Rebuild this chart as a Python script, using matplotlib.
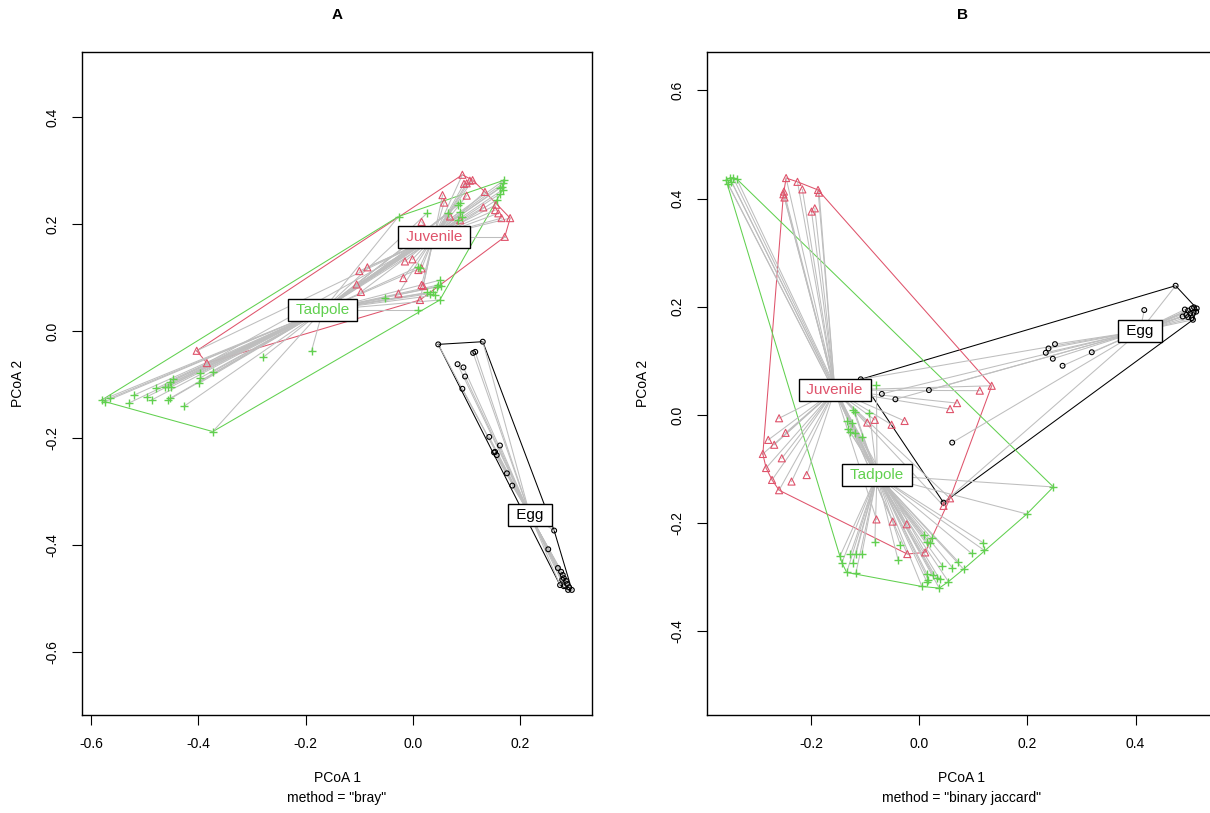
import matplotlib

matplotlib.use("Agg")
import matplotlib.pyplot as plt
import numpy as np

plt.rcParams["font.family"] = ["Liberation Sans", "DejaVu Sans"]
plt.rcParams["axes.unicode_minus"] = False

# =============================================================================
# DATA  (PCoA scores)
# =============================================================================
groups = ["Egg", "Juvenile", "Tadpole"]
group_colors = {"Egg": "#000000", "Juvenile": "#DF536B", "Tadpole": "#61D04F"}
group_markers = {"Egg": "o", "Juvenile": "^", "Tadpole": "+"}

# --- panel A: method = "bray"
a_egg_x = [0.047, 0.130, 0.112, 0.116, 0.083, 0.094, 0.097, 0.092, 0.142, 0.162,
           0.153, 0.156, 0.151, 0.175, 0.185, 0.263, 0.252, 0.270, 0.276, 0.279,
           0.281, 0.285, 0.287, 0.291, 0.281, 0.296, 0.289, 0.278, 0.274]
a_egg_y = [-0.025, -0.020, -0.041, -0.039, -0.062, -0.068, -0.085, -0.108, -0.198, -0.214,
           -0.226, -0.232, -0.227, -0.266, -0.289, -0.373, -0.408, -0.443, -0.450, -0.456,
           -0.462, -0.467, -0.473, -0.479, -0.477, -0.484, -0.484, -0.465, -0.475]
a_juv_x = [0.092, 0.100, 0.106, 0.111, 0.095, 0.055, 0.058, 0.100, 0.134, 0.155,
           0.131, 0.159, 0.165, 0.181, 0.171, 0.153, 0.069, 0.088, 0.016, -0.015,
           -0.001, 0.016, 0.010, -0.018, 0.019, 0.016, -0.027, 0.013, -0.100, -0.085,
           -0.105, -0.097, -0.403, -0.384]
a_juv_y = [0.292, 0.276, 0.281, 0.282, 0.275, 0.254, 0.240, 0.253, 0.260, 0.236,
           0.231, 0.220, 0.211, 0.211, 0.176, 0.226, 0.214, 0.207, 0.204, 0.130,
           0.134, 0.117, 0.114, 0.099, 0.084, 0.086, 0.070, 0.058, 0.112, 0.119,
           0.087, 0.073, -0.037, -0.060]
a_tad_x = [0.170, 0.165, 0.167, 0.163, 0.162, 0.168, 0.156, 0.088, 0.084, 0.066,
           0.088, 0.091, 0.084, 0.026, -0.027, 0.010, 0.013, 0.050, 0.047, 0.044,
           0.053, 0.038, 0.032, 0.041, 0.050, 0.026, -0.053, 0.009, -0.189, -0.279,
           -0.372, -0.397, -0.397, -0.399, -0.447, -0.453, -0.450, -0.456, -0.462, -0.478,
           -0.496, -0.487, -0.520, -0.530, -0.565, -0.574, -0.580, -0.456, -0.453, -0.427,
           -0.373]
a_tad_y = [0.282, 0.270, 0.264, 0.257, 0.267, 0.276, 0.245, 0.239, 0.236, 0.220,
           0.223, 0.214, 0.207, 0.220, 0.214, 0.120, 0.117, 0.095, 0.086, 0.083,
           0.084, 0.073, 0.070, 0.067, 0.058, 0.072, 0.061, 0.039, -0.037, -0.049,
           -0.076, -0.079, -0.088, -0.098, -0.090, -0.095, -0.104, -0.104, -0.104, -0.107,
           -0.123, -0.129, -0.120, -0.135, -0.126, -0.132, -0.129, -0.129, -0.126, -0.141,
           -0.188]
a_cent_x = [0.218, 0.039, -0.168]
a_cent_y = [-0.344, 0.176, 0.039]

# --- panel B: method = "binary jaccard"
b_egg_x = [0.474, 0.416, 0.491, 0.497, 0.504, 0.508, 0.513, 0.494, 0.501, 0.507,
           0.512, 0.487, 0.504, 0.506, 0.497, 0.251, 0.239, 0.234, 0.319, 0.247,
           0.265, -0.108, -0.069, -0.044, 0.018, 0.061, 0.045]
b_egg_y = [0.239, 0.194, 0.195, 0.193, 0.197, 0.199, 0.197, 0.185, 0.188, 0.189,
           0.191, 0.182, 0.179, 0.176, 0.181, 0.131, 0.123, 0.115, 0.116, 0.104,
           0.091, 0.066, 0.039, 0.029, 0.046, -0.051, -0.162]
b_juv_x = [-0.246, -0.225, -0.216, -0.187, -0.185, -0.250, -0.249, -0.251, -0.199, -0.193,
           0.134, 0.112, 0.070, 0.057, -0.027, -0.051, -0.082, -0.096, -0.259, -0.247,
           -0.279, -0.268, -0.289, -0.254, -0.283, -0.272, -0.259, -0.208, -0.236, 0.057,
           0.045, -0.079, -0.049, -0.023, -0.022, 0.011]
b_juv_y = [0.438, 0.431, 0.417, 0.416, 0.411, 0.413, 0.402, 0.408, 0.376, 0.382,
           0.054, 0.045, 0.022, 0.011, -0.011, -0.018, -0.009, -0.014, -0.006, -0.033,
           -0.046, -0.055, -0.072, -0.080, -0.098, -0.120, -0.139, -0.111, -0.123, -0.154,
           -0.168, -0.193, -0.197, -0.202, -0.257, -0.254]
b_tad_x = [-0.357, -0.350, -0.344, -0.337, -0.353, -0.347, -0.079, -0.119, -0.122, -0.092,
           -0.134, -0.125, -0.131, -0.128, -0.119, -0.106, 0.248, 0.199, -0.082, -0.035,
           -0.039, 0.008, 0.023, 0.014, 0.020, 0.118, 0.120, 0.097, 0.072, 0.082,
           0.061, 0.043, -0.146, -0.127, -0.117, -0.106, -0.143, -0.123, -0.134, -0.117,
           0.014, 0.026, 0.032, 0.017, 0.014, 0.038, 0.054, 0.005, 0.037]
b_tad_y = [0.434, 0.438, 0.439, 0.436, 0.427, 0.431, 0.055, 0.006, 0.009, 0.004,
           -0.012, -0.015, -0.026, -0.031, -0.034, -0.040, -0.133, -0.183, -0.234, -0.240,
           -0.268, -0.222, -0.228, -0.234, -0.237, -0.236, -0.250, -0.256, -0.271, -0.285,
           -0.282, -0.279, -0.260, -0.257, -0.257, -0.257, -0.273, -0.274, -0.291, -0.292,
           -0.293, -0.296, -0.302, -0.305, -0.308, -0.304, -0.308, -0.317, -0.320]
b_cent_x = [0.408, -0.156, -0.078]
b_cent_y = [0.155, 0.046, -0.111]

a_xticks = [-0.6, -0.4, -0.2, 0.0, 0.2]
a_yticks = [-0.6, -0.4, -0.2, 0.0, 0.2, 0.4]
b_xticks = [-0.2, 0.0, 0.2, 0.4]
b_yticks = [-0.4, -0.2, 0.0, 0.2, 0.4, 0.6]

W, H = 1210, 813


def px(x, y):
    """Pixel position (top-left origin) -> figure fraction."""
    return x / W, 1 - y / H


def convex_hull(xs, ys):
    """Monotone chain hull, returns closed list of vertices."""
    pts = sorted(set(zip(xs, ys)))

    def cross(o, a, b):
        return (a[0] - o[0]) * (b[1] - o[1]) - (a[1] - o[1]) * (b[0] - o[0])

    lower, upper = [], []
    for p in pts:
        while len(lower) >= 2 and cross(lower[-2], lower[-1], p) <= 0:
            lower.pop()
        lower.append(p)
    for p in reversed(pts):
        while len(upper) >= 2 and cross(upper[-2], upper[-1], p) <= 0:
            upper.pop()
        upper.append(p)
    hull = lower[:-1] + upper[:-1]
    hull.append(hull[0])
    return np.array(hull)


def draw_panel(fig, rect, xlim, ylim, data, cents, xticks, yticks, title, method, box):
    ax = fig.add_axes(rect)
    ax.set_xlim(*xlim)
    ax.set_ylim(*ylim)

    # hulls
    for g in groups:
        xs, ys = data[g]
        h = convex_hull(xs, ys)
        ax.plot(h[:, 0], h[:, 1], color=group_colors[g], lw=0.75, zorder=2)

    # segments to centroids
    for i, g in enumerate(groups):
        xs, ys = data[g]
        for x, y in zip(xs, ys):
            ax.plot([x, cents[0][i]], [y, cents[1][i]], color="#BEBEBE", lw=0.75, zorder=3)

    # points
    for g in groups:
        xs, ys = data[g]
        if group_markers[g] == "+":
            ax.scatter(xs, ys, marker="+", s=32, c=group_colors[g], lw=1.0, zorder=4)
        else:
            size = 12 if g == "Egg" else 26
            ax.scatter(xs, ys, marker=group_markers[g], s=size, facecolors="none",
                       edgecolors=group_colors[g], lw=0.8, zorder=4)

    # centroid labels (ordilabel style box)
    for i, g in enumerate(groups):
        ax.text(cents[0][i], cents[1][i], f" {g} ", color=group_colors[g], fontsize=11,
                ha="center", va="center", zorder=6,
                bbox=dict(boxstyle="square,pad=0.25", fc="white", ec="black", lw=1))

    ax.set_xticks(xticks)
    ax.set_yticks(yticks)
    ax.set_xticklabels([f"{t:.1f}" for t in xticks])
    ax.set_yticklabels([f"{t:.1f}" for t in yticks], rotation=90, va="center")
    ax.tick_params(labelsize=10, length=7, width=0.8, pad=9)
    for s in ax.spines.values():
        s.set_linewidth(1.0)

    cx = box[0]
    fig.text(*px(cx, 15), title, ha="center", va="center", fontsize=11, fontweight="bold")
    fig.text(*px(cx, 778), "PCoA 1", ha="center", va="center", fontsize=10)
    fig.text(*px(cx, 798), method, ha="center", va="center", fontsize=10)
    fig.text(*px(box[1], 383), "PCoA 2", ha="center", va="center", fontsize=10, rotation=90)
    return ax


def main():
    fig = plt.figure(figsize=(W / 100, H / 100), dpi=100)

    data_a = {"Egg": (a_egg_x, a_egg_y), "Juvenile": (a_juv_x, a_juv_y),
              "Tadpole": (a_tad_x, a_tad_y)}
    data_b = {"Egg": (b_egg_x, b_egg_y), "Juvenile": (b_juv_x, b_juv_y),
              "Tadpole": (b_tad_x, b_tad_y)}

    # panel A: frame 82..592 px wide, 52..715 px tall; 0 at (413, 331), 536 px/unit
    rect_a = [82 / W, (H - 715) / H, 510 / W, 663 / H]
    draw_panel(fig, rect_a, ((82 - 413) / 536.7, (592 - 413) / 536.7),
               ((331 - 715) / 535, (331 - 52) / 535), data_a, (a_cent_x, a_cent_y),
               a_xticks, a_yticks, "A", 'method = "bray"', (337, 18))

    # panel B: frame starts at 707 px and runs past the right edge; 0 at (919, 415)
    rect_b = [707 / W, (H - 715) / H, (1218 - 707) / W, 663 / H]
    draw_panel(fig, rect_b, ((707 - 919.2) / 541, (1218 - 919.2) / 541),
               ((415 - 715) / 541, (415 - 52) / 541), data_b, (b_cent_x, b_cent_y),
               b_xticks, b_yticks, "B", 'method = "binary jaccard"', (962, 643))

    fig.savefig("out.png", dpi=100)


if __name__ == "__main__":
    main()
